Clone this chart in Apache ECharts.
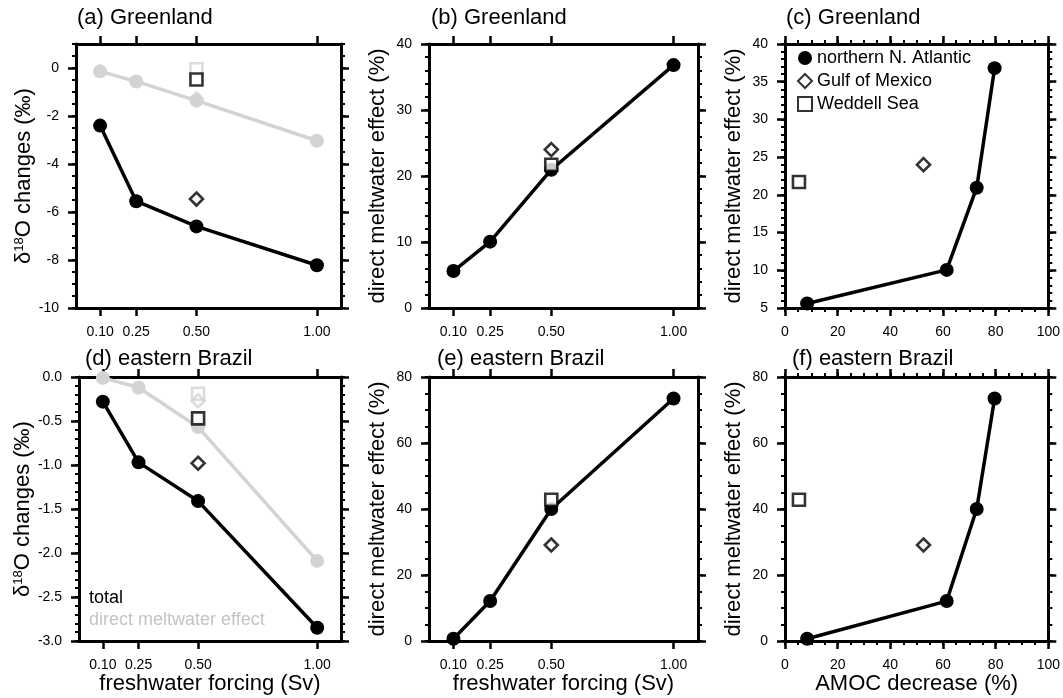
<!DOCTYPE html>
<html>
<head>
<meta charset="utf-8">
<script src="https://cdn.jsdelivr.net/npm/echarts@6/dist/echarts.min.js"></script>
<style>
  html, body { margin: 0; padding: 0; background: #fff; }
  #main { width: 1063px; height: 698px; }
</style>
</head>
<body>
<div id="main"></div>
<script>
// freshwater forcing of the northern N. Atlantic runs (Sv)
const forcing = [0.10, 0.25, 0.50, 1.00];
// the Gulf of Mexico / Weddell Sea runs use 0.5 Sv
const singleForcing = 0.50;

// Greenland d18O changes (permil)
const grTotal = [-2.4, -5.55, -6.6, -8.22];
const grDirect = [-0.14, -0.56, -1.36, -3.03];
const grGulf = [-5.46, -1.28];      // total, direct
const grWeddell = [-0.48, -0.05];   // total, direct
// Greenland direct meltwater effect (%)
const grShare = [5.6, 10.05, 20.95, 36.8];
const grGulfShare = 24.0;
const grWeddellShare = 21.7;

// eastern Brazil d18O changes (permil)
const brTotal = [-0.28, -0.97, -1.41, -2.85];
const brDirect = [-0.01, -0.12, -0.57, -2.09];
const brGulf = [-0.98, -0.27];
const brWeddell = [-0.47, -0.19];
// eastern Brazil direct meltwater effect (%)
const brShare = [0.7, 12.1, 40.0, 73.5];
const brGulfShare = 29.1;
const brWeddellShare = 42.8;

// AMOC decrease (%)
const amoc = [8.4, 61.4, 72.8, 79.6];
const gulfAmoc = 52.6;
const weddellAmoc = 5.3;

// tick labels
const forcingTicks = [0.10, 0.25, 0.50, 1.00];
const grDeltaTicks = [-10, -8, -6, -4, -2, 0];
const brDeltaTicks = [-3.0, -2.5, -2.0, -1.5, -1.0, -0.5, 0.0];
const grShareTicks = [0, 10, 20, 30, 40];
const grShareTicksC = [5, 10, 15, 20, 25, 30, 35, 40];
const brShareTicks = [0, 20, 40, 60, 80];
const amocTicks = [0, 20, 40, 60, 80, 100];

const FONT = '"Liberation Sans", Arial, Helvetica, sans-serif';
const GREY = '#d3d3d3';

function steps(a, b, s) {
  const out = [];
  for (let v = a; v <= b + 1e-9; v += s) out.push(Math.round(v * 1000) / 1000);
  return out;
}

const grids = [
  { left: 76, top: 44, width: 265, height: 264 },
  { left: 429, top: 44, width: 269, height: 264 },
  { left: 785, top: 44, width: 264, height: 264 },
  { left: 79, top: 377, width: 262, height: 264 },
  { left: 429, top: 377, width: 269, height: 264 },
  { left: 785, top: 377, width: 265, height: 264 }
];

const xAxes = [], yAxes = [];
const xMain = [], yMain = [];

// draws a closed box: labelled axis + mirrored axis, each with major and minor ticks
function addAxes(list, gi, dim, o) {
  const sides = dim === 'x' ? ['bottom', 'top'] : ['left', 'right'];
  let main = -1;
  sides.forEach(function (pos, si) {
    const base = { type: 'value', gridIndex: gi, position: pos, min: o.min, max: o.max, splitLine: { show: false } };
    if (o.minor) {
      list.push(Object.assign({}, base, {
        axisLine: { show: false, onZero: false },
        axisTick: { show: true, length: 4, customValues: o.minor, lineStyle: { color: '#000', width: 2 } },
        axisLabel: { show: false }
      }));
    }
    const ax = Object.assign({}, base, {
      axisLine: { show: true, onZero: false, lineStyle: { color: '#000', width: 3 } },
      axisTick: { show: true, length: 8, customValues: o.major, lineStyle: { color: '#000', width: 2.5 } },
      axisLabel: {
        show: si === 0 && o.labels !== false, customValues: o.major, formatter: o.fmt,
        margin: 17, color: '#000', fontSize: 14, fontFamily: FONT
      }
    });
    if (si === 0 && o.name) {
      Object.assign(ax, {
        name: o.name, nameLocation: 'middle', nameGap: o.nameGap,
        nameRotate: dim === 'y' ? 90 : 0,
        nameTextStyle: {
          fontSize: 22, color: '#000', fontFamily: FONT,
          rich: { s: { fontSize: 13, verticalAlign: 'top', fontFamily: FONT, color: '#000' } }
        }
      });
    }
    if (si === 0) main = list.length;
    list.push(ax);
  });
  return main;
}

const fmt2 = v => v.toFixed(2);
const fmt1 = v => v.toFixed(1);
const fmt0 = v => String(v);
const deltaName = 'δ{s|18}O changes (‰)';
const shareName = 'direct meltwater effect (%)';

// x axes
[0, 1, 3, 4].forEach(function (gi) {
  xMain[gi] = addAxes(xAxes, gi, 'x', {
    min: 0, max: 1.1, major: forcingTicks, fmt: fmt2,
    name: gi >= 3 ? 'freshwater forcing (Sv)' : null, nameGap: 30
  });
});
[2, 5].forEach(function (gi) {
  xMain[gi] = addAxes(xAxes, gi, 'x', {
    min: 0, max: 100, major: amocTicks, minor: steps(0, 100, 5), fmt: fmt0,
    name: gi === 5 ? 'AMOC decrease (%)' : null, nameGap: 30
  });
});

// y axes
yMain[0] = addAxes(yAxes, 0, 'y', { min: -10, max: 1, major: grDeltaTicks, minor: steps(-10, 1, 0.5), fmt: fmt0, name: deltaName, nameGap: 41 });
yMain[1] = addAxes(yAxes, 1, 'y', { min: 0, max: 40, major: grShareTicks, minor: steps(0, 40, 2), fmt: fmt0, name: shareName, nameGap: 40 });
yMain[2] = addAxes(yAxes, 2, 'y', { min: 5, max: 40, major: grShareTicksC, minor: steps(5, 40, 1), fmt: fmt0, name: shareName, nameGap: 40 });
yMain[3] = addAxes(yAxes, 3, 'y', { min: -3, max: 0, major: brDeltaTicks, minor: steps(-3, 0, 0.1), fmt: fmt1, name: deltaName, nameGap: 44 });
yMain[4] = addAxes(yAxes, 4, 'y', { min: 0, max: 80, major: brShareTicks, minor: steps(0, 80, 5), fmt: fmt0, name: shareName, nameGap: 40 });
yMain[5] = addAxes(yAxes, 5, 'y', { min: 0, max: 80, major: brShareTicks, minor: steps(0, 80, 5), fmt: fmt0, name: shareName, nameGap: 40 });

function pairs(xs, ys) { return xs.map((x, i) => [x, ys[i]]); }

function lineSeries(gi, xs, ys, color, name) {
  return {
    type: 'line', name: name, xAxisIndex: xMain[gi], yAxisIndex: yMain[gi],
    data: pairs(xs, ys), symbol: 'circle', symbolSize: 14,
    itemStyle: { color: color }, lineStyle: { color: color, width: 3.5 },
    emphasis: { disabled: true }, z: color === GREY ? 2 : 3
  };
}
function marker(gi, x, y, symbol, color, name) {
  return {
    type: 'scatter', name: name, xAxisIndex: xMain[gi], yAxisIndex: yMain[gi],
    data: [[x, y]], symbol: symbol, symbolSize: symbol === 'diamond' ? 13 : 12,
    itemStyle: { color: color === GREY ? 'rgba(255,255,255,0)' : '#fff', borderColor: color, borderWidth: 2.6 },
    emphasis: { disabled: true }, z: color === GREY ? 2 : 4
  };
}

const series = [
  // (a)
  lineSeries(0, forcing, grDirect, GREY),
  lineSeries(0, forcing, grTotal, '#000'),
  marker(0, singleForcing, grGulf[1], 'diamond', GREY),
  marker(0, singleForcing, grWeddell[0], 'rect', '#000'),
  marker(0, singleForcing, grWeddell[1], 'rect', GREY),
  marker(0, singleForcing, grGulf[0], 'diamond', '#000'),
  // (b)
  lineSeries(1, forcing, grShare, '#000'),
  marker(1, singleForcing, grGulfShare, 'diamond', '#000'),
  marker(1, singleForcing, grWeddellShare, 'rect', '#000'),
  // (c)
  lineSeries(2, amoc, grShare, '#000', 'northern N. Atlantic'),
  marker(2, gulfAmoc, grGulfShare, 'diamond', '#000', 'Gulf of Mexico'),
  marker(2, weddellAmoc, grWeddellShare, 'rect', '#000', 'Weddell Sea'),
  // (d)
  lineSeries(3, forcing, brDirect, GREY),
  lineSeries(3, forcing, brTotal, '#000'),
  marker(3, singleForcing, brGulf[1], 'diamond', GREY),
  marker(3, singleForcing, brWeddell[1], 'rect', GREY),
  marker(3, singleForcing, brWeddell[0], 'rect', '#000'),
  marker(3, singleForcing, brGulf[0], 'diamond', '#000'),
  // (e)
  lineSeries(4, forcing, brShare, '#000'),
  marker(4, singleForcing, brGulfShare, 'diamond', '#000'),
  marker(4, singleForcing, brWeddellShare, 'rect', '#000'),
  // (f)
  lineSeries(5, amoc, brShare, '#000'),
  marker(5, gulfAmoc, brGulfShare, 'diamond', '#000'),
  marker(5, weddellAmoc, brWeddellShare, 'rect', '#000')
];

function panelTitle(text, left, top, size, color) {
  return {
    text: text, left: left, top: top, padding: 0,
    textStyle: { fontSize: size || 22, fontWeight: 'normal', color: color || '#000', fontFamily: FONT }
  };
}

const chart = echarts.init(document.getElementById('main'), null, { renderer: 'canvas' });
chart.setOption({
  animation: false,
  backgroundColor: '#fff',
  title: [
    panelTitle('(a) Greenland', 77, 7),
    panelTitle('(b) Greenland', 431, 7),
    panelTitle('(c) Greenland', 786, 7),
    panelTitle('(d) eastern Brazil', 85, 348),
    panelTitle('(e) eastern Brazil', 437, 348),
    panelTitle('(f) eastern Brazil', 792, 348),
    panelTitle('total', 89, 589, 18),
    panelTitle('direct meltwater effect', 89, 611, 18, '#c4c4c4')
  ],
  legend: {
    left: 797, top: 49, orient: 'vertical', padding: 0, itemGap: 5,
    itemWidth: 14, itemHeight: 14, selectedMode: false,
    textStyle: { fontSize: 18, color: '#000', fontFamily: FONT },
    data: [
      { name: 'northern N. Atlantic', icon: 'circle' },
      { name: 'Gulf of Mexico', icon: 'diamond' },
      { name: 'Weddell Sea', icon: 'rect' }
    ]
  },
  grid: grids,
  xAxis: xAxes,
  yAxis: yAxes,
  series: series
});
</script>
</body>
</html>
